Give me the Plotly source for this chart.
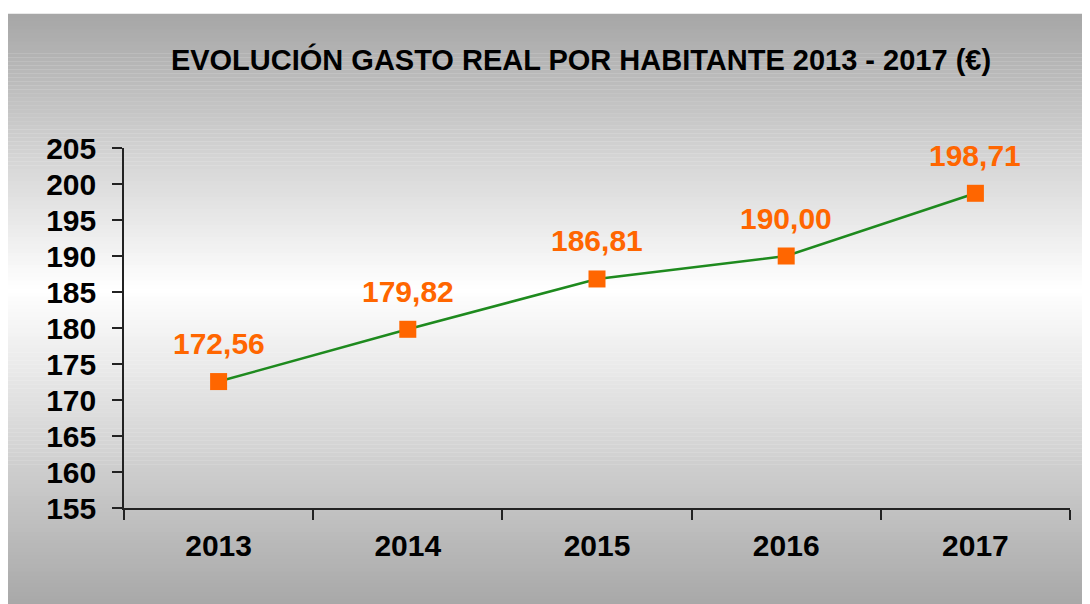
import plotly.graph_objects as go

years = ["2013", "2014", "2015", "2016", "2017"]
values = [172.56, 179.82, 186.81, 190.00, 198.71]
labels = [f"{v:.2f}".replace(".", ",") for v in values]
title = "EVOLUCIÓN GASTO REAL POR HABITANTE 2013 - 2017 (€)"

W, H = 1090, 604
L, R, T, B = 116, 28, 140, 104
pw, ph = W - L - R, H - T - B

def px_to_paper_x(px):
    return (px - L) / pw

def px_to_paper_y(py):
    return (H - B - py) / ph

fig = go.Figure()
fig.add_trace(go.Scatter(
    x=years, y=values, mode="lines+markers",
    line=dict(color="#1e8a1e", width=2.5),
    marker=dict(symbol="square", size=17, color="#ff6600"),
    hoverinfo="skip", showlegend=False, cliponaxis=False,
))
for i, (y, t) in enumerate(zip(values, labels)):
    fig.add_annotation(x=i, y=y, text=t, showarrow=False, yshift=38,
                       font=dict(family="Liberation Sans", size=30, color="#ff6600", weight="bold"))

# gradient background panel
top, bot, left, right = 6, 604, 0, 1090
light_y = 282
n = 150
shapes = []
for i in range(n):
    y0 = top + (bot - top) * i / n
    y1 = top + (bot - top) * (i + 1) / n
    ym = (y0 + y1) / 2
    if ym <= light_y:
        f = (ym - top) / (light_y - top)
    else:
        f = 1 - (ym - light_y) / (bot - light_y)
    c = int(round(166 + (255 - 166) * f))
    col = f"rgb({c},{c},{c})"
    shapes.append(dict(type="rect", xref="paper", yref="paper", layer="below",
                       x0=px_to_paper_x(left), x1=px_to_paper_x(right),
                       y0=px_to_paper_y(y1), y1=px_to_paper_y(y0) + 0.001,
                       fillcolor=col, line=dict(width=0)))

fig.update_layout(
    width=W, height=H,
    margin=dict(l=L, r=R, t=T, b=B),
    paper_bgcolor="white", plot_bgcolor="rgba(0,0,0,0)",
    shapes=shapes,
    title=dict(text=title, x=573 / W, xref="container", xanchor="center",
               y=1 - 52 / H, yref="container", yanchor="middle",
               font=dict(family="Liberation Sans", size=29, color="black", weight="bold")),
    xaxis=dict(type="category", range=[-0.5, 4.5], tickson="boundaries", ticks="outside", ticklen=10,
               tickcolor="#222", tickwidth=1.5, showline=True, linecolor="#222", linewidth=1.5,
               showgrid=False, zeroline=False, tickangle=0, ticklabelstandoff=10,
               tickfont=dict(family="Liberation Sans", size=30, color="black", weight="bold")),
    yaxis=dict(range=[155, 205], dtick=5, tick0=155, ticks="outside", ticklen=10,
               tickcolor="#222", tickwidth=1.5, showline=True, linecolor="#222", linewidth=1.5,
               showgrid=False, zeroline=False, ticklabelstandoff=10,
               tickfont=dict(family="Liberation Sans", size=30, color="black", weight="bold")),
)
fig.write_html("out.html")
